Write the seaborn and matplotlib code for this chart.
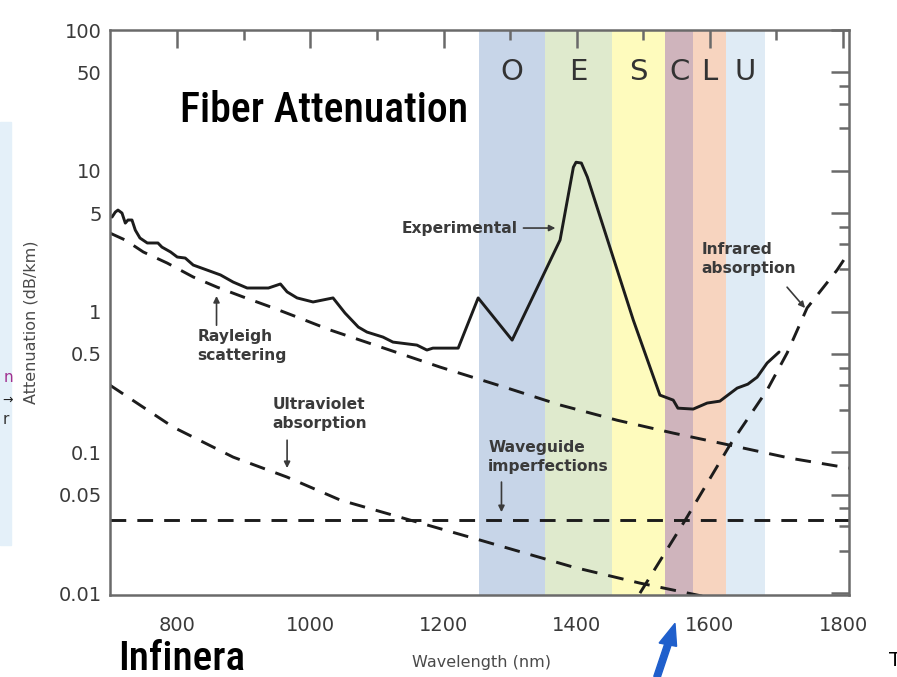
import numpy as np
import pandas as pd
import matplotlib
matplotlib.use("Agg")
import matplotlib.pyplot as plt
import seaborn as sns
from matplotlib import font_manager as fm
from matplotlib.ticker import FixedLocator, FixedFormatter, NullFormatter
from matplotlib.patches import Rectangle, FancyArrow

# ---------------- data ----------------
band_names = ["O", "E", "S", "C", "L", "U"]
band_edges = [1253, 1353, 1453, 1533, 1575, 1624, 1683]
band_colors = ["#c7d5e8", "#dfeacd", "#fefbbd", "#cfb4bc", "#f7d4bf", "#dfebf5"]

exp_nm = [702, 707, 711, 717, 722, 726, 732, 737, 744, 755, 771, 777, 790, 800,
          812, 824, 845, 865, 884, 905, 937, 955, 965, 980, 1004, 1034, 1052,
          1072, 1085, 1109, 1124, 1160, 1175, 1184, 1222, 1252, 1303, 1375,
          1395, 1399, 1407, 1416, 1485, 1525, 1545, 1552, 1575, 1596, 1615,
          1641, 1657, 1671, 1686, 1704]
exp_db = [4.69, 5.09, 5.26, 5.01, 4.25, 4.47, 4.47, 3.79, 3.33, 3.07, 3.07, 2.87,
          2.65, 2.44, 2.40, 2.14, 1.97, 1.82, 1.62, 1.47, 1.47, 1.57, 1.38, 1.25,
          1.17, 1.25, 0.976, 0.776, 0.715, 0.659, 0.607, 0.578, 0.533, 0.550,
          0.550, 1.25, 0.627, 3.22, 10.6, 11.5, 11.35, 9.03, 0.870, 0.255, 0.235,
          0.206, 0.203, 0.224, 0.231, 0.286, 0.305, 0.342, 0.431, 0.516]

rayleigh_nm = [699, 722, 749, 785, 824, 860, 899, 940, 980, 1030, 1195, 1296,
               1375, 1461, 1545, 1630, 1720, 1809]
rayleigh_db = [3.61, 3.22, 2.65, 2.21, 1.76, 1.49, 1.27, 1.08, 0.914, 0.739,
               0.403, 0.286, 0.217, 0.169, 0.137, 0.1125, 0.091, 0.0773]

uv_nm = [699, 794, 884, 965, 1045, 1150, 1255, 1395, 1495, 1596]
uv_db = [0.300, 0.151, 0.0925, 0.0667, 0.0458, 0.033, 0.0238, 0.0153, 0.01178, 0.00937]

wg_nm = [699, 1809]
wg_db = [0.033, 0.033]

ir_nm = [1495, 1563, 1630, 1686, 1716, 1746, 1791, 1808]
ir_db = [0.0100, 0.033, 0.1125, 0.277, 0.507, 1.06, 1.97, 2.60]

x_major = [800, 1000, 1200, 1400, 1600, 1800]
x_minor = [900, 1100, 1300, 1500, 1700]
y_major = [0.01, 0.05, 0.1, 0.5, 1, 5, 10, 50, 100]
y_major_labels = ["0.01", "0.05", "0.1", "0.5", "1", "5", "10", "50", "100"]
y_minor = [0.02, 0.03, 0.04, 0.2, 0.3, 0.4, 2, 3, 4, 20, 30, 40]


# ---------------- condensed font lookup ----------------
def find_condensed():
    prefs = ["roboto condensed", "dejavu sans condensed", "liberation sans narrow",
             "open sans condensed", "noto sans condensed", "lato"]
    entries = fm.fontManager.ttflist

    def is_cond(f):
        st = f.stretch
        if isinstance(st, str):
            return st in ("condensed", "semi-condensed", "extra-condensed", "ultra-condensed")
        return st < 500

    scored = []
    for f in entries:
        nm = f.name.lower()
        path = f.fname.lower()
        cond = is_cond(f) or "condensed" in nm or "narrow" in nm or "condensed" in path
        if not cond:
            continue
        if f.style != "normal":
            continue
        w = f.weight if isinstance(f.weight, (int, float)) else 400
        rank = 10
        for i, p in enumerate(prefs):
            if nm.startswith(p.split()[0]):
                rank = i
                break
        scored.append((rank, abs(w - 520), f.fname))
    if scored:
        scored.sort()
        return fm.FontProperties(fname=scored[0][2])
    return fm.FontProperties(family="DejaVu Sans", stretch="condensed")


# ---------------- figure ----------------
sns.set_style("white")
plt.rcParams["font.family"] = ["DejaVu Sans"]

W, H = 897, 677
fig = plt.figure(figsize=(W / 100, H / 100), dpi=100)
ax = fig.add_axes([110 / W, 1 - 595 / H, (849 - 110) / W, (595 - 30) / H])

# bands
for i, name in enumerate(band_names):
    ax.axvspan(band_edges[i], band_edges[i + 1], color=band_colors[i], lw=0, zorder=0)
    ax.text((band_edges[i] + band_edges[i + 1]) / 2, 50, name, ha="center", va="center",
            fontsize=21, color="#333333", zorder=3)

ink = "#1c1c1c"
dash = (5.4, 3.8)
lw = 2.1
df_exp = pd.DataFrame({"nm": exp_nm, "db": exp_db})
sns.lineplot(data=df_exp, x="nm", y="db", ax=ax, color=ink, lw=lw,
             estimator=None, sort=False, zorder=4)
for xs, ys in [(rayleigh_nm, rayleigh_db), (uv_nm, uv_db), (wg_nm, wg_db), (ir_nm, ir_db)]:
    d = pd.DataFrame({"nm": xs, "db": ys})
    sns.lineplot(data=d, x="nm", y="db", ax=ax, color=ink, lw=lw,
                 estimator=None, sort=False, zorder=4)
    ax.lines[-1].set_dashes(dash)

ax.set_yscale("log")
ax.set_xlim(699, 1809)
ax.set_ylim(0.0097, 100)

ax.xaxis.set_major_locator(FixedLocator(x_major))
ax.xaxis.set_minor_locator(FixedLocator(x_minor))
ax.xaxis.set_major_formatter(FixedFormatter([str(v) for v in x_major]))
ax.xaxis.set_minor_formatter(NullFormatter())
ax.yaxis.set_major_locator(FixedLocator(y_major))
ax.yaxis.set_major_formatter(FixedFormatter(y_major_labels))
ax.yaxis.set_minor_locator(FixedLocator(y_minor))
ax.yaxis.set_minor_formatter(NullFormatter())

frame = "#6a6a6a"
ax.tick_params(which="both", direction="in", top=True, right=True, color=frame, width=1.8)
ax.tick_params(which="major", length=13)
ax.tick_params(which="minor", length=7)
ax.tick_params(axis="x", which="major", labelsize=14, labelcolor="#3a3a3a", pad=15)
ax.tick_params(axis="y", which="major", labelsize=14, labelcolor="#3a3a3a", pad=6)
for s in ax.spines.values():
    s.set_color(frame)
    s.set_linewidth(1.8)
    s.set_zorder(5)

ax.set_xlabel("")
ax.set_ylabel("")
fig.text(31 / W, 1 - 322 / H, "Attenuation (dB/km)", rotation=90, ha="center", va="center",
         fontsize=11.5, color="#4a4a4a")
fig.text(481 / W, 1 - 663 / H, "Wavelength (nm)", ha="center", va="center",
         fontsize=11.5, color="#4a4a4a")

# annotations
acol = "#3a3a3a"
afs = 11.2
aprops = dict(arrowstyle="-|>", color=acol, lw=1.2, mutation_scale=9, shrinkA=0, shrinkB=0)
ax.text(1312, 3.92, "Experimental", ha="right", va="center", fontsize=afs,
        fontweight="bold", color=acol, zorder=6)
ax.annotate("", xy=(1368, 3.92), xytext=(1320, 3.92), arrowprops=aprops, zorder=6)
ax.text(830, 0.75, "Rayleigh\nscattering", ha="left", va="top", fontsize=afs,
        fontweight="bold", color=acol, linespacing=1.3, zorder=6)
ax.annotate("", xy=(859, 1.29), xytext=(859, 0.80), arrowprops=aprops, zorder=6)
ax.text(943, 0.247, "Ultraviolet\nabsorption", ha="left", va="top", fontsize=afs,
        fontweight="bold", color=acol, linespacing=1.3, zorder=6)
ax.annotate("", xy=(965, 0.0773), xytext=(965, 0.122), arrowprops=aprops, zorder=6)
ax.text(1267, 0.122, "Waveguide\nimperfections", ha="left", va="top", fontsize=afs,
        fontweight="bold", color=acol, linespacing=1.3, zorder=6)
ax.annotate("", xy=(1287, 0.0376), xytext=(1287, 0.0615), arrowprops=aprops, zorder=6)
ax.text(1588, 3.12, "Infrared\nabsorption", ha="left", va="top", fontsize=afs,
        fontweight="bold", color=acol, linespacing=1.3, zorder=6)
ax.annotate("", xy=(1743, 1.06), xytext=(1716, 1.49), arrowprops=aprops, zorder=6)

# overlay texts in a condensed face, sized to the reference widths
cond_fp = find_condensed()
renderer = fig.canvas.get_renderer()


def fit_text(x0, y_base, s, target_w, size0=30):
    fp = cond_fp.copy()
    fp.set_size(size0)
    t = fig.text(x0 / W, 1 - y_base / H, s, ha="left", va="baseline",
                 fontproperties=fp, color="black")
    w = t.get_window_extent(renderer).width
    if w > 0:
        fp2 = cond_fp.copy()
        fp2.set_size(min(size0 * target_w / w, 36))
        t.set_fontproperties(fp2)
    return t


fit_text(180, 122, "Fiber Attenuation", 288)
fit_text(118, 670, "Infinera", 127)
fig.text(889 / W, 1 - 660 / H, "T", ha="left", va="center", fontsize=14, color="black")

# left light-blue box sliver
fig.patches.append(Rectangle((0, 1 - 545 / H), 11 / W, (545 - 122) / H,
                             transform=fig.transFigure, color="#e4f0f9", zorder=0))
fig.text(13 / W, 1 - 378 / H, "n", ha="right", va="center", fontsize=11, color="#a0308f")
fig.text(13 / W, 1 - 400 / H, "\u2192", ha="right", va="center", fontsize=9, color="#222222")
fig.text(9 / W, 1 - 420 / H, "r", ha="right", va="center", fontsize=11, color="#333333")

# blue arrow
fig.patches.append(FancyArrow(657 / W, 0.0, (675 - 657) / W, (677 - 622) / H - 0.002,
                              width=5 / H, head_width=18 / W, head_length=22 / H,
                              length_includes_head=True, transform=fig.transFigure,
                              color="#1f5fcc", zorder=10))

fig.savefig("out.png", dpi=100)
